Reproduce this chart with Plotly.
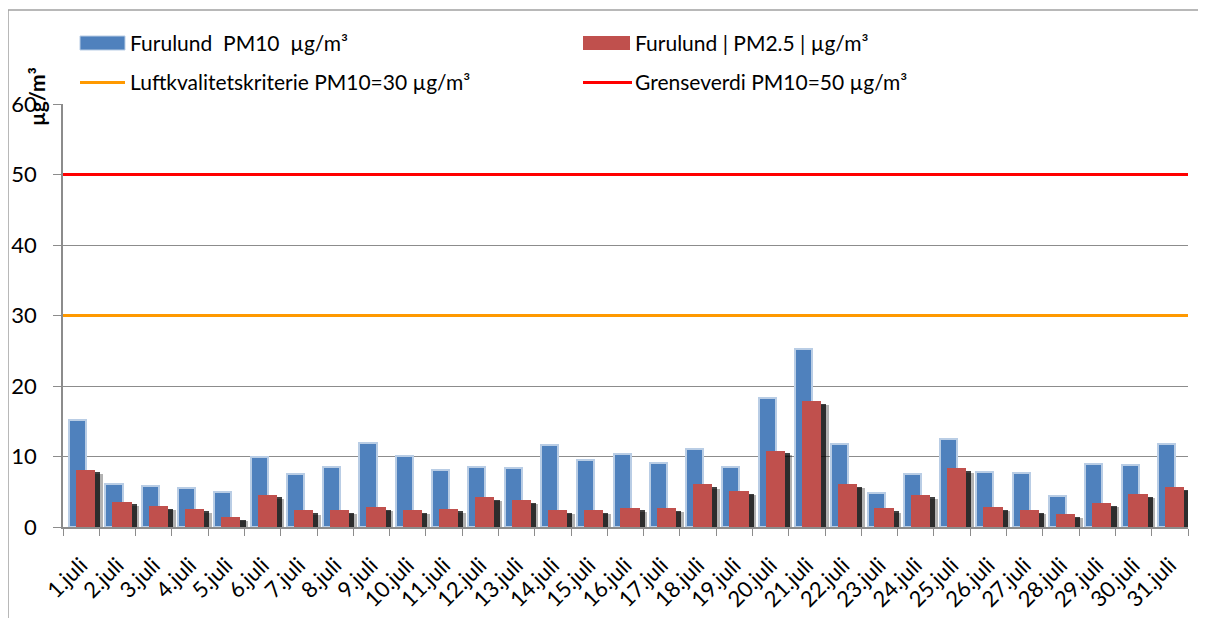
import plotly.graph_objects as go

days = [f"{i}.juli" for i in range(1, 32)]
pm10 = [15.2, 6.1, 5.8, 5.5, 4.9, 10.0, 7.5, 8.5, 11.85, 10.1,
        8.05, 8.5, 8.4, 11.6, 9.5, 10.4, 9.05, 11.1, 8.5, 18.3,
        25.3, 11.8, 4.85, 7.5, 12.55, 7.75, 7.7, 4.45, 9.0, 8.8, 11.8]
pm25 = [8.15, 3.6, 3.0, 2.6, 1.4, 4.6, 2.35, 2.45, 2.8, 2.4,
        2.6, 4.25, 3.85, 2.45, 2.45, 2.75, 2.7, 6.05, 5.15, 10.85,
        17.9, 6.1, 2.65, 4.6, 8.3, 2.85, 2.4, 1.85, 3.45, 4.65, 5.65]
luft_value = 30
grense_value = 50

name_pm10 = "Furulund  PM10  µg/m³"
name_pm25 = "Furulund | PM2.5 | µg/m³"
name_luft = "Luftkvalitetskriterie PM10=30 µg/m³"
name_grense = "Grenseverdi PM10=50 µg/m³"

BLUE = "#4F81BD"
BLUE_EDGE = "#B9CDE5"
RED = "#C0504D"
ORANGE = "#FF9900"
LINE_RED = "#FF0000"
GRID = "#8C8C8C"
FONT = "Lato"

# page offset of the plot div (browser default body margin)
OFF = 8
W, H = 1206 - OFF, 618 - OFF
# plot area in screen pixels
L, R, T, B = 63, 1188, 104, 527
pw, ph = R - L, B - T


def px(x):
    return (x - L) / pw


def py(y):
    return (B - y) / ph


fig = go.Figure()

fig.add_trace(go.Bar(
    x=days, y=pm10, name=name_pm10, width=0.47, offset=-0.33,
    marker=dict(color=BLUE, line=dict(color=BLUE_EDGE, width=2)),
    showlegend=False,
))
# soft shadow behind the PM2.5 bars
fig.add_trace(go.Bar(
    x=days, y=pm25, base=-0.6, width=0.53, offset=0.07,
    marker=dict(color="rgba(0,0,0,0.3)", line=dict(width=0)),
    showlegend=False, hoverinfo="skip",
))
fig.add_trace(go.Bar(
    x=days, y=pm25, base=-0.4, width=0.53, offset=0.0,
    marker=dict(color="rgba(0,0,0,0.75)", line=dict(width=0)),
    showlegend=False, hoverinfo="skip",
))
fig.add_trace(go.Bar(
    x=days, y=pm25, name=name_pm25, width=0.53, offset=-0.14,
    marker=dict(color=RED, line=dict(width=0)),
    showlegend=False,
))
fig.add_trace(go.Scatter(
    x=[0, 1], y=[luft_value, luft_value], xaxis="x2", mode="lines",
    name=name_luft, line=dict(color=ORANGE, width=3), showlegend=False,
))
fig.add_trace(go.Scatter(
    x=[0, 1], y=[grense_value, grense_value], xaxis="x2", mode="lines",
    name=name_grense, line=dict(color=LINE_RED, width=3), showlegend=False,
))

shapes = [
    # outer chart border (top and left)
    dict(type="line", xref="paper", yref="paper", x0=px(8), x1=px(1220),
         y0=py(10), y1=py(10), line=dict(color="#A0A0A0", width=1.5)),
    dict(type="line", xref="paper", yref="paper", x0=px(8), x1=px(8),
         y0=py(10), y1=py(630), line=dict(color="#A0A0A0", width=1.5)),
    # legend symbols
    dict(type="rect", xref="paper", yref="paper", x0=px(80), x1=px(125),
         y0=py(50), y1=py(36), fillcolor=BLUE, line=dict(color=BLUE_EDGE, width=1)),
    dict(type="rect", xref="paper", yref="paper", x0=px(583), x1=px(630),
         y0=py(50), y1=py(36), fillcolor=RED, line=dict(width=0)),
    dict(type="line", xref="paper", yref="paper", x0=px(80), x1=px(125),
         y0=py(82.5), y1=py(82.5), line=dict(color=ORANGE, width=3)),
    dict(type="line", xref="paper", yref="paper", x0=px(583), x1=px(632),
         y0=py(82.5), y1=py(82.5), line=dict(color=LINE_RED, width=3)),
]

LEG_FONT = dict(family=FONT, size=21, color="black")
annotations = [
    dict(text=name_pm10, x=px(128), y=py(43), xref="paper", yref="paper",
         xanchor="left", yanchor="middle", showarrow=False, font=LEG_FONT),
    dict(text=name_pm25, x=px(633), y=py(43), xref="paper", yref="paper",
         xanchor="left", yanchor="middle", showarrow=False, font=LEG_FONT),
    dict(text=name_luft, x=px(128), y=py(82), xref="paper", yref="paper",
         xanchor="left", yanchor="middle", showarrow=False, font=LEG_FONT),
    dict(text=name_grense, x=px(633), y=py(82), xref="paper", yref="paper",
         xanchor="left", yanchor="middle", showarrow=False, font=LEG_FONT),
    dict(text="<b>µg/m³</b>", x=px(36), y=py(97), xref="paper", yref="paper",
         xanchor="center", yanchor="middle", textangle=-90, showarrow=False,
         font=dict(family=FONT, size=21, color="black")),
]

fig.update_layout(
    width=W, height=H,
    margin=dict(l=L - OFF, r=W - (R - OFF), t=T - OFF, b=H - (B - OFF),
                autoexpand=False),
    paper_bgcolor="white", plot_bgcolor="white",
    barmode="overlay", bargap=0,
    showlegend=False,
    font=dict(family=FONT, color="black"),
    xaxis=dict(
        type="category", tickangle=-45, tickson="boundaries",
        ticks="outside", ticklen=7, tickcolor=GRID,
        showline=True, linecolor=GRID, linewidth=1.5,
        showgrid=False, tickfont=dict(family=FONT, size=22, color="black"),
        ticklabelstandoff=15,
        range=[-0.5, 30.5], automargin=False,
    ),
    xaxis2=dict(overlaying="x", range=[0, 1], visible=False, fixedrange=True),
    yaxis=dict(
        range=[0, 60], dtick=10, showgrid=True, gridcolor=GRID, gridwidth=1.2,
        ticks="outside", ticklen=8, tickcolor=GRID,
        showline=True, linecolor=GRID, linewidth=1.5, zeroline=False,
        tickfont=dict(family=FONT, size=22, color="black"), automargin=False,
        ticklabelstandoff=12,
    ),
    shapes=shapes,
    annotations=annotations,
)

fig.write_html("out.html")
